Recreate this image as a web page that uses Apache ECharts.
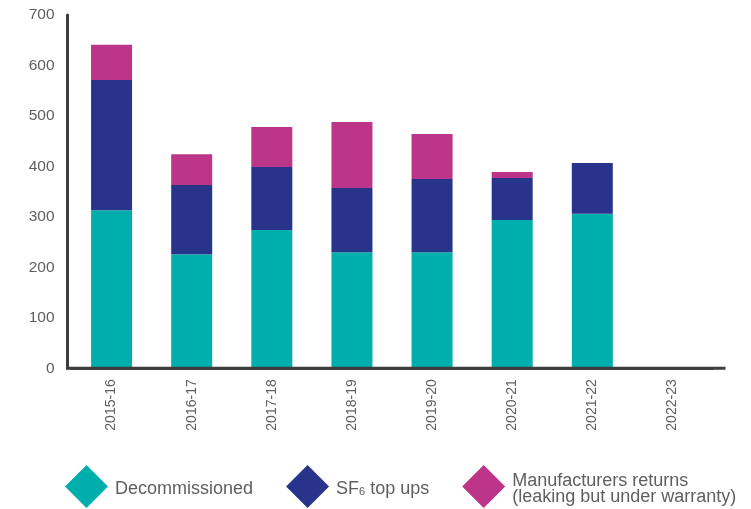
<!DOCTYPE html>
<html>
<head>
<meta charset="utf-8">
<script src="https://cdn.jsdelivr.net/npm/echarts@6/dist/echarts.min.js"></script>
<style>
  html, body { margin: 0; padding: 0; background: #ffffff; }
  #chart { width: 751px; height: 509px; }
</style>
</head>
<body>
<div id="chart"></div>
<script>
// Financial years on the category axis
const years = ['2015-16', '2016-17', '2017-18', '2018-19', '2019-20', '2020-21', '2021-22', '2022-23'];

// Stacked components per year
const decommissioned = [313, 226, 274, 230, 230, 294, 306, null];
const sf6TopUps = [258, 137, 125, 127, 145, 83, 101, null];
const manufacturersReturns = [70, 61, 79, 131, 89, 12, null, null];

// Value axis ticks
const yTicks = [0, 100, 200, 300, 400, 500, 600, 700];

const seriesNames = ['Decommissioned', 'SF6 top ups', 'Manufacturers returns (leaking but under warranty)'];
const colors = ['#00AFAD', '#28348A', '#BD3589'];

const FONT = '"Liberation Sans", Arial, Helvetica, sans-serif';
const TEXT = '#5f5f5f';
const AXIS = '#3d3d3d';

const chart = echarts.init(document.getElementById('chart'), null, { renderer: 'canvas' });

function barSeries(name, data, color) {
  return {
    name: name,
    type: 'bar',
    stack: 'total',
    barWidth: 41,
    data: data,
    itemStyle: { color: color },
    emphasis: { disabled: true }
  };
}

chart.setOption({
  animation: false,
  backgroundColor: '#ffffff',
  textStyle: { fontFamily: FONT },
  grid: { left: 71.5, right: 38.5, top: 15, bottom: 140.7, containLabel: false },
  xAxis: {
    type: 'category',
    data: years,
    axisLine: { show: true, lineStyle: { color: AXIS, width: 3 } },
    axisTick: { show: false },
    axisLabel: { rotate: 90, margin: 11, fontSize: 14, color: TEXT, fontFamily: FONT }
  },
  yAxis: {
    type: 'value',
    min: yTicks[0],
    max: yTicks[yTicks.length - 1],
    interval: yTicks[1] - yTicks[0],
    offset: 4,
    axisLine: { show: true, lineStyle: { color: AXIS, width: 3 } },
    axisTick: { show: false },
    splitLine: { show: false },
    axisLabel: { margin: 13, fontSize: 15.5, color: TEXT, fontFamily: FONT }
  },
  legend: {
    left: 65,
    top: 465,
    padding: 0,
    icon: 'diamond',
    itemWidth: 43,
    itemHeight: 43,
    itemGap: 33,
    selectedMode: false,
    data: seriesNames,
    formatter: function (name) {
      if (name === seriesNames[1]) return '{a|SF}{s|6}{a| top ups}';
      if (name === seriesNames[2]) return '{a|Manufacturers returns}\n{a|(leaking but under warranty)}';
      return '{a|' + name + '}';
    },
    textStyle: {
      color: TEXT,
      fontFamily: FONT,
      fontSize: 18,
      padding: [6, 0, 0, 2],
      rich: {
        a: { fontSize: 18, color: TEXT, fontFamily: FONT, lineHeight: 16 },
        s: { fontSize: 11, color: TEXT, fontFamily: FONT, lineHeight: 16, verticalAlign: 'bottom' }
      }
    }
  },
  series: [
    barSeries(seriesNames[0], decommissioned, colors[0]),
    barSeries(seriesNames[1], sf6TopUps, colors[1]),
    barSeries(seriesNames[2], manufacturersReturns, colors[2])
  ]
});

// Extend the baseline so it meets the value axis on the left and runs a little past the last category
const y0 = chart.convertToPixel({ yAxisIndex: 0 }, 0);
const gridRect = chart.getModel().getComponent('grid').coordinateSystem.getRect();
chart.setOption({
  graphic: [{
    type: 'line',
    silent: true,
    shape: { x1: gridRect.x - 5.5, y1: y0, x2: gridRect.x + gridRect.width + 13, y2: y0 },
    style: { stroke: AXIS, lineWidth: 3 },
    z: 10
  }]
});
</script>
</body>
</html>
